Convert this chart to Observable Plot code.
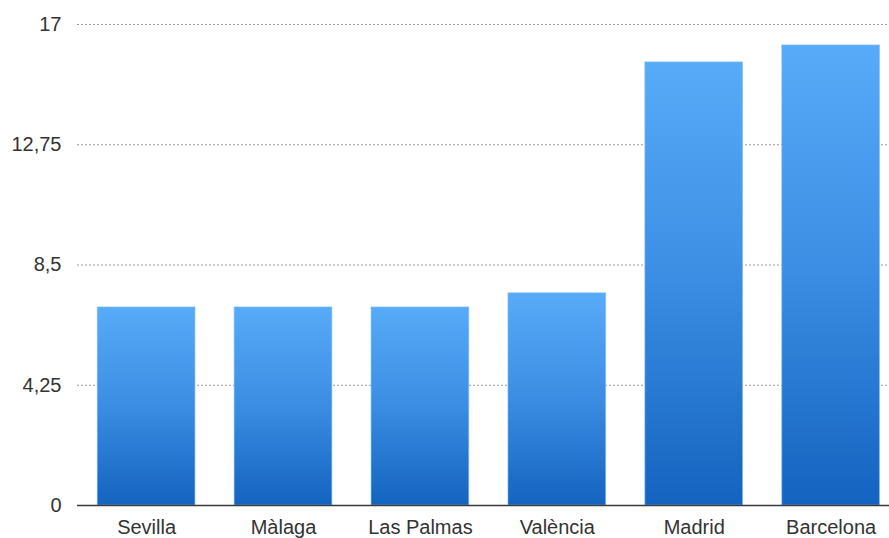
<!DOCTYPE html>
<html>
<head>
<meta charset="utf-8">
<script src="https://cdn.jsdelivr.net/npm/d3@7"></script>
<script src="https://cdn.jsdelivr.net/npm/@observablehq/plot@0.6"></script>
<style>
  html, body { margin: 0; padding: 0; background: #fff; }
  #chart svg { display: block; }
</style>
</head>
<body>
<div id="chart"></div>
<script>
const cities = ["Sevilla", "Màlaga", "Las Palmas", "València", "Madrid", "Barcelona"];
const values = [7.0, 7.0, 7.0, 7.5, 15.66, 16.26];
const yTicks = [0, 4.25, 8.5, 12.75, 17];
const gridTicks = [4.25, 8.5, 12.75, 17];

const data = cities.map((c, i) => ({city: c, value: values[i]}));
const fmt = v => String(v).replace(".", ",");

const chart = Plot.plot({
  width: 889,
  height: 538,
  marginLeft: 77,
  marginRight: 0,
  marginTop: 24,
  marginBottom: 33,
  style: {fontFamily: "'Liberation Sans', Helvetica, Arial, sans-serif", fontSize: "20px", color: "#333", background: "#fff"},
  x: {domain: cities, paddingInner: 0.2863, paddingOuter: 0.1087, align: 0.68, round: false, label: null},
  y: {domain: [0, 17], label: null},
  marks: [
    Plot.ruleY(gridTicks, {stroke: "#9a9a9a", strokeDasharray: "2,2", strokeWidth: 1}),
    Plot.barY(data, {x: "city", y: "value", fill: "url(#barGrad)", stroke: "#7fbcf8", strokeOpacity: 0.6, strokeWidth: 1}),
    Plot.ruleY([0], {stroke: "#3a3a3a", strokeWidth: 1.3}),
    Plot.axisY({ticks: yTicks, tickFormat: fmt, tickSize: 0, tickPadding: 16, fontSize: 20, label: null}),
    Plot.axisX({tickSize: 0, tickPadding: 14, fontSize: 20, label: null})
  ]
});

const svg = d3.select(chart);
const defs = svg.insert("defs", ":first-child");
const grad = defs.append("linearGradient").attr("id", "barGrad")
  .attr("x1", 0).attr("y1", 0).attr("x2", 0).attr("y2", 1);
grad.append("stop").attr("offset", "0%").attr("stop-color", "#58abf8");
grad.append("stop").attr("offset", "50%").attr("stop-color", "#3a8de2");
grad.append("stop").attr("offset", "100%").attr("stop-color", "#1463bf");

document.getElementById("chart").appendChild(chart);
</script>
</body>
</html>
